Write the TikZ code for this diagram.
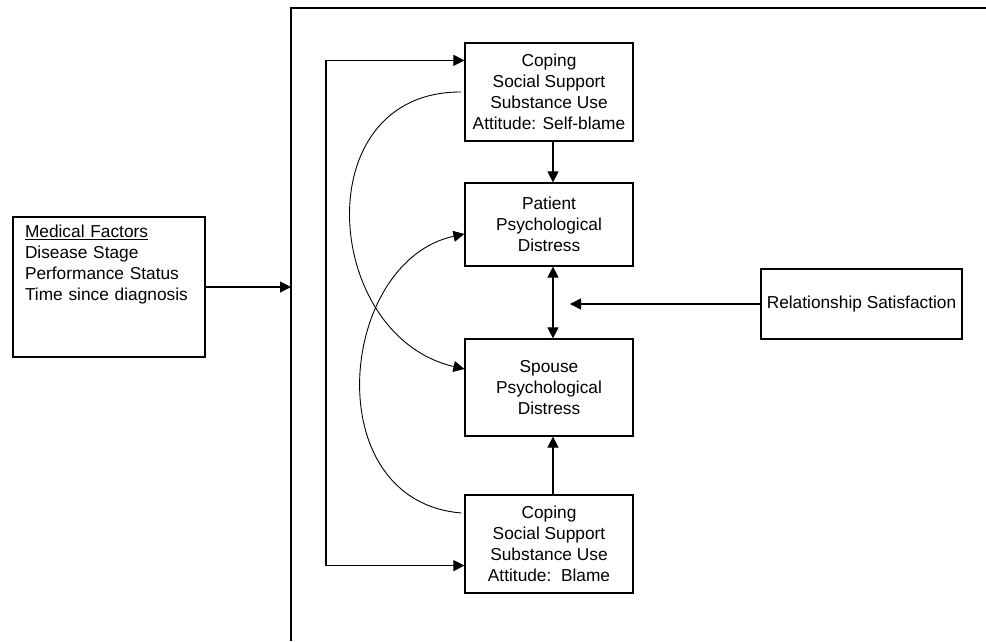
\documentclass[tikz,border=0pt]{standalone}
\usepackage{fontspec}
\setmainfont{Liberation Sans}
\usetikzlibrary{arrows.meta}

\begin{document}
\begin{tikzpicture}[x=1pt,y=1pt,>={Triangle[length=11pt,width=11pt]}]
    \tikzstyle{BoxStyle}=[draw,
                          line width   = 1.2pt,
                          align        = center,
                          inner sep    = 0pt,
                          minimum width = 168pt,
                          font         = \fontsize{17.3}{21}\selectfont]
    \tikzstyle{EdgeStyle}=[line width = 1.1pt]
    \tikzstyle{CurveStyle}=[line width = 0.9pt]
    \useasboundingbox (0,0) rectangle (986,641);
    % outer frame
    \draw[line width=1.2pt] (291,0) -- (291,633) -- (986,633);
    % boxes
    \node[BoxStyle, align=left, text width=168pt, inner xsep=12pt,
          minimum height=140pt] (med) at (109,354)
        {\underline{Medical Factors}\\Disease Stage\\Performance Status\\Time since diagnosis\\ \strut\\ \strut};
    \node[BoxStyle, minimum height=98pt] (cope1) at (549,549)
        {Coping\\Social Support\\Substance Use\\Attitude: Self-blame};
    \node[BoxStyle, minimum height=83pt] (pat) at (549,416.5)
        {Patient\\Psychological\\Distress};
    \node[BoxStyle, minimum height=97pt] (sps) at (549,253.5)
        {Spouse\\Psychological\\Distress};
    \node[BoxStyle, minimum height=98pt] (cope2) at (549,97)
        {Coping\\Social Support\\Substance Use\\Attitude:\ \ Blame};
    \node[BoxStyle, minimum width=201pt, minimum height=70pt] (rel) at (861.5,337)
        {Relationship Satisfaction};
    \coordinate (frameL) at (291,354);
    \coordinate (brk) at (326,330);
    \coordinate (relend) at (570,337);
    % connectors
    \draw[EdgeStyle,->] (med.east |- frameL) -- (frameL);
    \draw[EdgeStyle,<->] ([yshift=-18pt]cope1.north west) -| (brk) |- ([yshift=28pt]cope2.south west);
    \draw[EdgeStyle,->] ([xshift=4pt]cope1.south) -- ([xshift=4pt]pat.north);
    \draw[EdgeStyle,<->] ([xshift=4pt]pat.south) -- ([xshift=4pt]sps.north);
    \draw[EdgeStyle,->] ([xshift=4pt]cope2.north) -- ([xshift=4pt]sps.south);
    \draw[EdgeStyle,->] (rel.west) -- (relend);
    % curved paths
    \draw[CurveStyle,->] ([xshift=-3pt]cope1.west) .. controls (305,550) and (322,305) .. ([yshift=18.5pt]sps.west);
    \draw[CurveStyle,->] ([xshift=-3pt,yshift=31pt]cope2.west) .. controls (316,140) and (338,380) .. ([yshift=-9.5pt]pat.west);
\end{tikzpicture}
\end{document}
